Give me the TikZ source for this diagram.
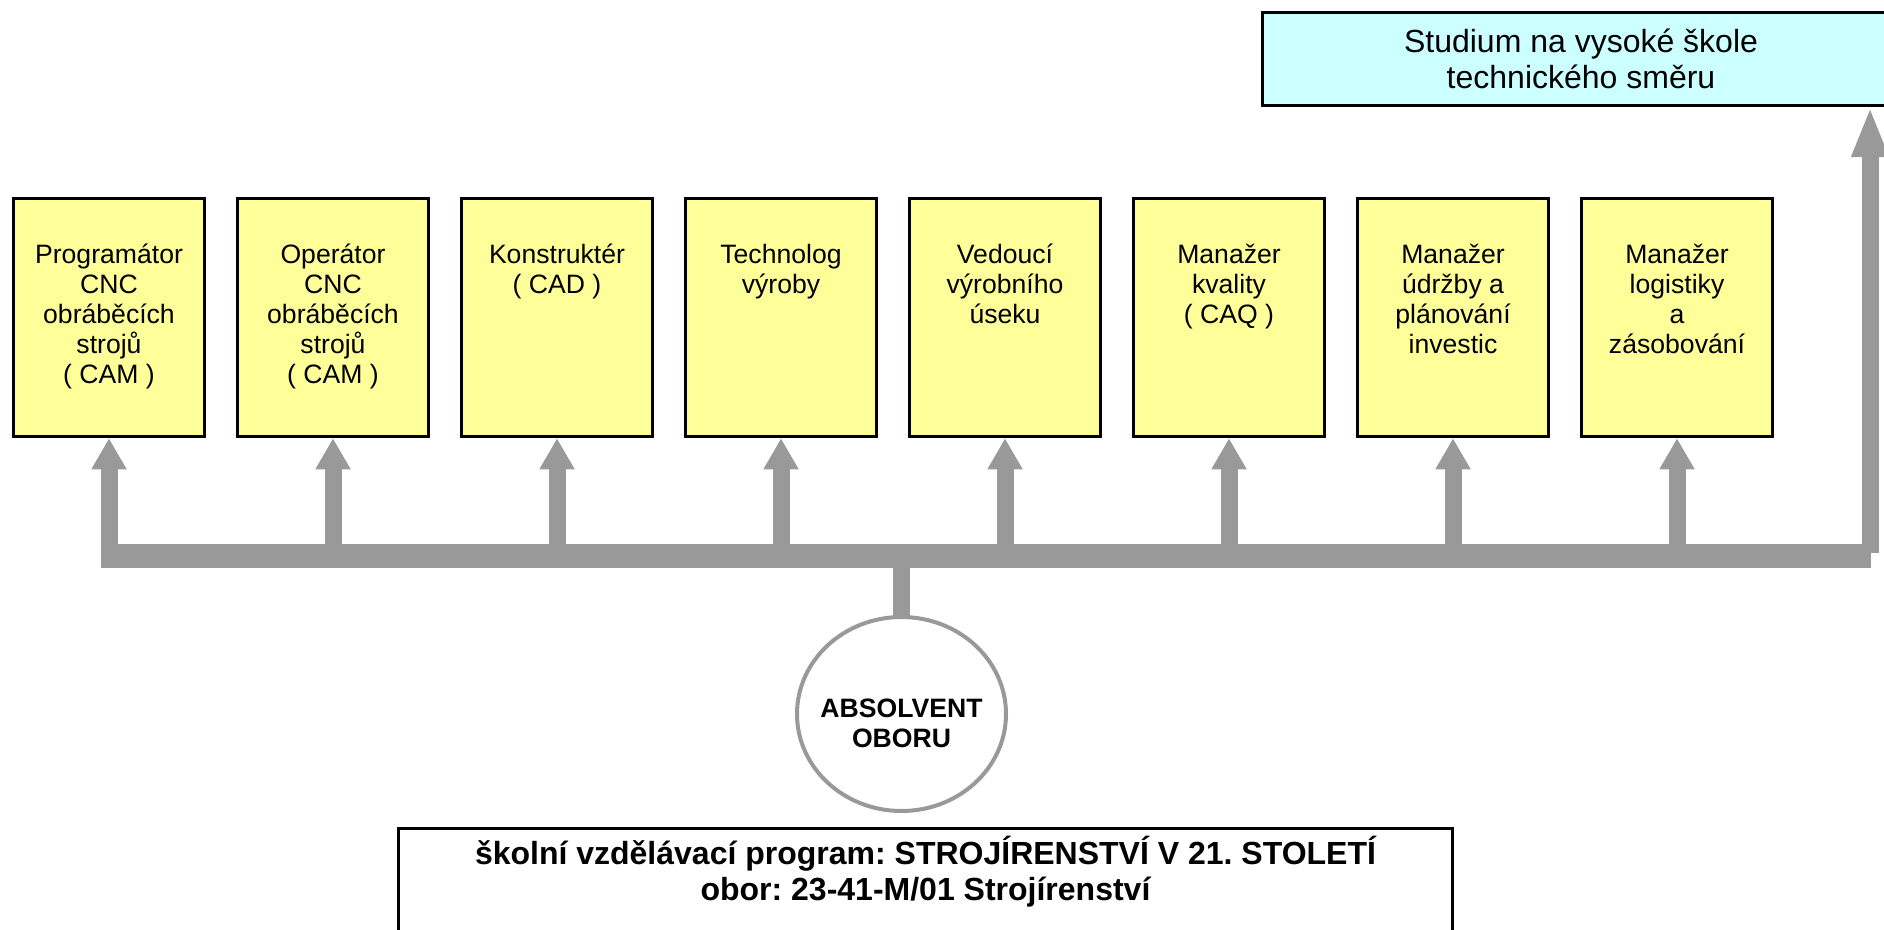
\documentclass[tikz,border=0pt]{standalone}
\usepackage{fontspec}
\setmainfont{Liberation Sans}
\usetikzlibrary{arrows.meta,shapes.geometric}
\definecolor{boxyellow}{HTML}{FFFF99}
\definecolor{boxcyan}{HTML}{CCFFFF}
\definecolor{linkgray}{HTML}{999999}
\frenchspacing
\begin{document}
\begin{tikzpicture}[x=1pt,y=-1pt,
  jobbox/.style={draw=black, line width=3.5pt, fill=boxyellow, minimum width=191pt, minimum height=238pt, inner sep=0pt},
  jobtext/.style={anchor=north, align=center, inner sep=0pt, font=\fontsize{26.6}{30}\selectfont},
  link/.style={draw=linkgray, line width=17pt},
  linkarrow/.style={link, -{Triangle[width=33pt,length=31pt]}},
  bigtext/.style={anchor=north, align=center, inner sep=0pt, font=\fontsize{32}{36}\selectfont},
]
\useasboundingbox (0,0) rectangle (1884,929);
\clip (0,0) rectangle (1884,929);

% upper target box
\node[draw=black, line width=3pt, fill=boxcyan, minimum width=637pt, minimum height=93pt, inner sep=0pt] (uni) at (1581,59) {};
\node[bigtext] (unit) at ([yshift=41pt]uni.center) {\rule{0pt}{34pt}Studium na vysoké škole\\technického směru};

% job boxes
\node[jobbox] (b1) at (109,317.5) {};
\node[jobbox] (b2) at (333,317.5) {};
\node[jobbox] (b3) at (557,317.5) {};
\node[jobbox] (b4) at (781,317.5) {};
\node[jobbox] (b5) at (1005,317.5) {};
\node[jobbox] (b6) at (1229,317.5) {};
\node[jobbox] (b7) at (1453,317.5) {};
\node[jobbox] (b8) at (1677,317.5) {};

\node[jobtext] (t1) at ([yshift=-38.25pt]b1.north) {\rule{0pt}{28pt}Programátor\\CNC\\obráběcích\\strojů\\( CAM )};
\node[jobtext] (t2) at ([yshift=-38.25pt]b2.north) {\rule{0pt}{28pt}Operátor\\CNC\\obráběcích\\strojů\\( CAM )};
\node[jobtext] (t3) at ([yshift=-38.25pt]b3.north) {\rule{0pt}{28pt}Konstruktér\\( CAD )};
\node[jobtext] (t4) at ([yshift=-38.25pt]b4.north) {\rule{0pt}{28pt}Technolog\\výroby};
\node[jobtext] (t5) at ([yshift=-38.25pt]b5.north) {\rule{0pt}{28pt}Vedoucí\\výrobního\\úseku};
\node[jobtext] (t6) at ([yshift=-38.25pt]b6.north) {\rule{0pt}{28pt}Manažer\\kvality\\( CAQ )};
\node[jobtext] (t7) at ([yshift=-38.25pt]b7.north) {\rule{0pt}{28pt}Manažer\\údržby a\\plánování\\investic};
\node[jobtext] (t8) at ([yshift=-38.25pt]b8.north) {\rule{0pt}{28pt}Manažer\\logistiky\\a\\zásobování};

% bus
\coordinate (busL) at (108,556);
\coordinate (busR) at (1871,556);
\coordinate (busB) at (0,568);
\coordinate (rbend) at (1870,553);
\draw[link, line width=24pt] (busL) -- (busR);

\draw[linkarrow] (b1.south |- busB) -- (b1.south);
\draw[linkarrow] (b2.south |- busL) -- (b2.south);
\draw[linkarrow] (b3.south |- busL) -- (b3.south);
\draw[linkarrow] (b4.south |- busL) -- (b4.south);
\draw[linkarrow] (b5.south |- busL) -- (b5.south);
\draw[linkarrow] (b6.south |- busL) -- (b6.south);
\draw[linkarrow] (b7.south |- busL) -- (b7.south);
\draw[linkarrow] (b8.south |- busL) -- (b8.south);
\draw[link, -{Triangle[width=34pt,length=50pt]}] (rbend) -- (rbend |- uni.south);

% graduate circle
\node[ellipse, draw=linkgray, line width=4pt, fill=white, minimum width=209pt, minimum height=194pt, inner sep=0pt] (abs) at (901.5,714) {};
\draw[link] (abs.north |- busL) -- ([yshift=-2pt]abs.north);
\node[anchor=north, align=center, inner sep=0pt, font=\bfseries\fontsize{26.6}{30}\selectfont] (abst) at ([yshift=23pt]abs.center) {\rule{0pt}{26pt}ABSOLVENT\\OBORU};

% programme box
\node[draw=black, line width=3pt, fill=white, minimum width=1054pt, minimum height=140pt, anchor=north, inner sep=0pt] (prog) at (925.5,826.5) {};
\node[bigtext, font=\bfseries\fontsize{32}{36}\selectfont] (progt) at ([yshift=-5.5pt]prog.north) {\rule{0pt}{32pt}školní vzdělávací program: STROJÍRENSTVÍ V 21. STOLETÍ\\obor: 23-41-M/01 Strojírenství};
\end{tikzpicture}
\end{document}
